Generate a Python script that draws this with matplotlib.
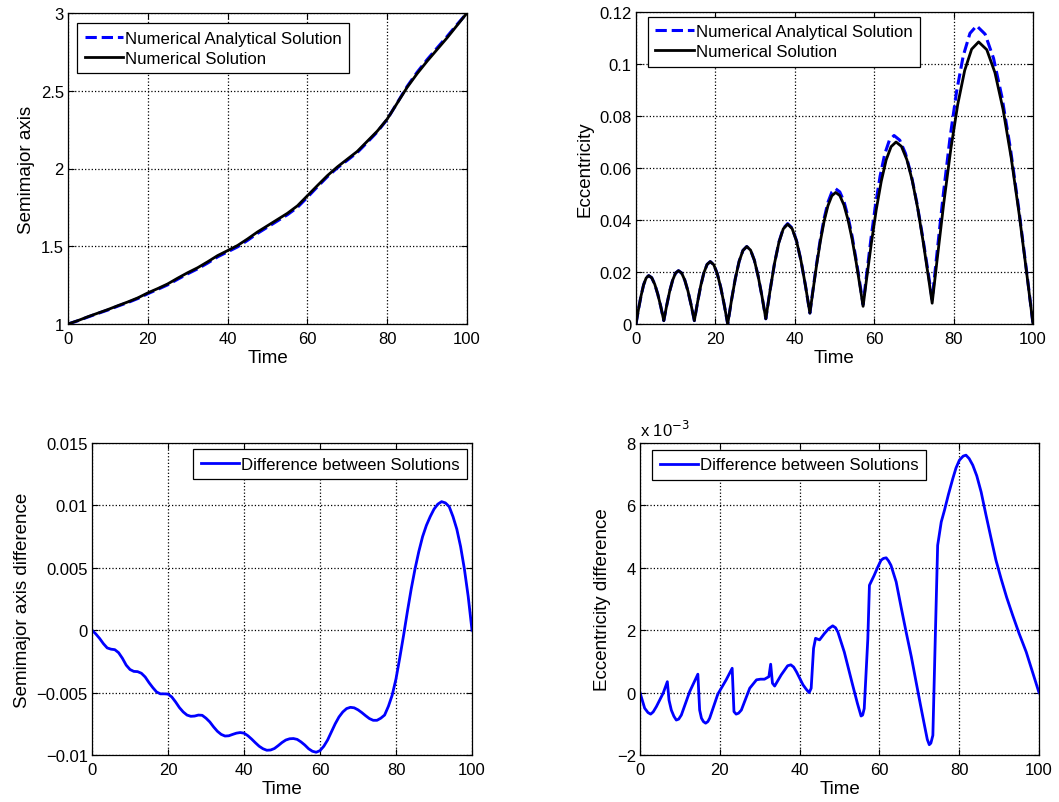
import matplotlib
matplotlib.use("Agg")
import matplotlib.pyplot as plt
import numpy as np

plt.rcParams['font.family'] = ['Liberation Sans', 'DejaVu Sans']

# ---- semimajor axis (top left) ----
sa_time = np.arange(0, 100.1, 2.5)
sa_numerical = [1.000, 1.022, 1.047, 1.070, 1.093, 1.118, 1.142, 1.168, 1.200, 1.228,
                1.258, 1.295, 1.330, 1.362, 1.400, 1.440, 1.472, 1.505, 1.547, 1.592,
                1.632, 1.672, 1.712, 1.760, 1.825, 1.890, 1.954, 2.010, 2.060, 2.110,
                2.175, 2.240, 2.318, 2.420, 2.522, 2.610, 2.690, 2.765, 2.840, 2.920, 3.000]
sa_analytical = [1.000, 1.021, 1.045, 1.068, 1.090, 1.115, 1.138, 1.164, 1.195, 1.223,
                 1.252, 1.288, 1.323, 1.355, 1.392, 1.432, 1.464, 1.496, 1.538, 1.583,
                 1.623, 1.663, 1.703, 1.750, 1.815, 1.882, 1.947, 2.004, 2.053, 2.103,
                 2.168, 2.235, 2.316, 2.422, 2.528, 2.619, 2.700, 2.775, 2.849, 2.926, 3.000]

# ---- eccentricity (top right) ----
ecc_time = [0, 0.64, 1.28, 1.92, 2.56, 3.2, 3.96, 4.72, 5.48, 6.24, 7.0,
            7.74, 8.48, 9.22, 9.96, 10.7, 11.5, 12.3, 13.1, 13.9, 14.7,
            15.5, 16.3, 17.1, 17.9, 18.7, 19.58, 20.46, 21.34, 22.22, 23.1,
            24.06, 25.02, 25.98, 26.94, 27.9, 28.86, 29.82, 30.78, 31.74, 32.7,
            33.8, 34.9, 36.0, 37.1, 38.2, 39.32, 40.44, 41.56, 42.68, 43.8,
            44.45, 45.425, 46.4, 47.375, 48.35, 49.325, 50.3,
            51.335, 52.37, 53.405, 54.44, 55.475, 56.51, 57.2,
            58.03, 59.275, 60.52, 61.765, 63.01, 64.255, 65.5,
            66.865, 68.23, 69.595, 70.96, 72.325, 73.69, 74.6,
            75.77, 77.525, 79.28, 81.035, 82.79, 84.545, 86.3,
            88.355, 90.41, 92.465, 94.52, 96.575, 98.63, 100]
ecc_numerical = [0, 0.0058, 0.0109, 0.0151, 0.0177, 0.0186, 0.0178, 0.0153, 0.0115, 0.0067, 0.0013,
                 0.0072, 0.0126, 0.0168, 0.0196, 0.0205, 0.0196, 0.0168, 0.0126, 0.0072, 0.0013,
                 0.0083, 0.0147, 0.0197, 0.0229, 0.0240, 0.0228, 0.0194, 0.0141, 0.0074, 0.0,
                 0.0092, 0.0175, 0.0241, 0.0283, 0.0298, 0.0284, 0.0245, 0.0183, 0.0106, 0.0020,
                 0.0132, 0.0234, 0.0314, 0.0366, 0.0384, 0.0367, 0.0319, 0.0243, 0.0148, 0.0042,
                 0.0114, 0.0220, 0.0315, 0.0395, 0.0455, 0.0493, 0.0506,
                 0.0494, 0.0458, 0.0401, 0.0326, 0.0236, 0.0136, 0.0068,
                 0.0167, 0.0310, 0.0440, 0.0548, 0.0631, 0.0682, 0.0700,
                 0.0683, 0.0632, 0.0551, 0.0445, 0.0317, 0.0177, 0.0080,
                 0.0237, 0.0465, 0.0671, 0.0844, 0.0975, 0.1057, 0.1085,
                 0.1055, 0.0967, 0.0825, 0.0638, 0.0416, 0.0169, 0]

ecc_time_an = [0, 0.64, 1.28, 1.92, 2.56, 3.2, 3.96, 4.72, 5.48, 6.24, 7.0,
               7.74, 8.48, 9.22, 9.96, 10.7, 11.5, 12.3, 13.1, 13.9, 14.7,
               15.5, 16.3, 17.1, 17.9, 18.7, 19.58, 20.46, 21.34, 22.22, 23.1,
               24.06, 25.02, 25.98, 26.94, 27.9, 28.86, 29.82, 30.78, 31.74, 32.7,
               33.8, 34.9, 36.0, 37.1, 38.2, 39.32, 40.44, 41.56, 42.68, 43.8,
               44.45, 45.425, 46.4, 47.375, 48.35, 49.325, 50.3,
               51.335, 52.37, 53.405, 54.44, 55.475, 56.51, 57.2,
               57.98, 59.15, 60.32, 61.49, 62.66, 63.83, 65.0,
               66.44, 67.88, 69.32, 70.76, 72.2, 73.64, 74.6,
               75.72, 77.4, 79.08, 80.76, 82.44, 84.12, 85.8,
               87.93, 90.06, 92.19, 94.32, 96.45, 98.58, 100]
ecc_analytical = [0, 0.0058, 0.0109, 0.0151, 0.0177, 0.0186, 0.0178, 0.0153, 0.0115, 0.0067, 0.0013,
                  0.0072, 0.0126, 0.0168, 0.0196, 0.0205, 0.0196, 0.0168, 0.0126, 0.0072, 0.0013,
                  0.0083, 0.0147, 0.0197, 0.0229, 0.0240, 0.0228, 0.0194, 0.0141, 0.0074, 0.0,
                  0.0092, 0.0175, 0.0241, 0.0283, 0.0298, 0.0284, 0.0245, 0.0183, 0.0106, 0.0020,
                  0.0132, 0.0234, 0.0315, 0.0368, 0.0386, 0.0369, 0.0320, 0.0244, 0.0148, 0.0042,
                  0.0117, 0.0225, 0.0323, 0.0405, 0.0468, 0.0507, 0.0520,
                  0.0508, 0.0472, 0.0413, 0.0337, 0.0245, 0.0144, 0.0075,
                  0.0176, 0.0324, 0.0457, 0.0569, 0.0654, 0.0707, 0.0725,
                  0.0707, 0.0656, 0.0574, 0.0465, 0.0336, 0.0193, 0.0095,
                  0.0259, 0.0498, 0.0714, 0.0895, 0.1032, 0.1118, 0.1147,
                  0.1115, 0.1022, 0.0872, 0.0674, 0.0439, 0.0179, 0]

# ---- semimajor axis difference (bottom left) ----
sad_time = np.arange(0, 101, 1)
sa_diff = [0, -0.0003, -0.00066, -0.00108, -0.00142, -0.00152, -0.00156, -0.0018, -0.00225, -0.0028,
           -0.00315, -0.0033, -0.00332, -0.00345, -0.00375, -0.0042, -0.0046, -0.00495, -0.0051, -0.0051,
           -0.00512, -0.00535, -0.00575, -0.0062, -0.00655, -0.0068, -0.0069, -0.00688, -0.0068, -0.00682,
           -0.00705, -0.00735, -0.00775, -0.0081, -0.00835, -0.00848, -0.00846, -0.00835, -0.00825, -0.0082,
           -0.00825, -0.00845, -0.00872, -0.00902, -0.0093, -0.0095, -0.00962, -0.0096, -0.00948, -0.00925,
           -0.009, -0.0088, -0.0087, -0.00868, -0.00875, -0.00895, -0.0092, -0.0095, -0.0097, -0.00978,
           -0.00965, -0.0093, -0.0088, -0.00815, -0.0075, -0.00695, -0.00655, -0.00628, -0.00618, -0.00622,
           -0.00638, -0.0066, -0.00685, -0.00708, -0.00722, -0.00722, -0.00705, -0.0068, -0.0061, -0.0052,
           -0.0039, -0.0022, -0.0004, 0.0015, 0.0033, 0.0049, 0.0063, 0.0075, 0.0084, 0.0091,
           0.0097, 0.0101, 0.0103, 0.0102, 0.0099, 0.0091, 0.0081, 0.0067, 0.0049, 0.0027, 0]

# ---- eccentricity difference (bottom right), units of 1e-3 ----
ed_time = [0, 1.17, 2.0, 2.67, 3.3, 4.1, 5.8, 6.85, 7.27, 7.85, 8.5, 9.1, 9.7, 10.36, 12.45,
           14.5, 14.95, 15.4, 15.9, 16.45, 17.0, 17.46, 19.5, 21.6, 23.1, 23.55, 24.1, 24.7,
           25.4, 27.5, 29.2, 30.2, 31.2, 32.3, 32.75, 33.2, 33.75, 35.4, 37.0, 37.8, 38.5,
           39.2, 40.85, 41.7, 42.4, 42.9, 43.5, 44.0, 45.0, 46.2, 47.3, 48.3, 49.0, 49.6,
           51.2, 53.3, 54.5, 55.4, 55.8, 56.2, 57.1, 57.5, 58.7, 59.5, 60.4, 61.0, 61.7,
           62.3, 62.9, 64.2, 65.5, 66.7, 68.0, 69.2, 70.3, 71.3, 72.0, 72.5, 72.9, 73.4,
           74.0, 74.6, 75.5, 76.3, 77.3, 78.4, 79.2, 80.05, 81.0, 81.7, 82.5, 83.4, 84.4,
           85.5, 86.7, 88.0, 89.2, 90.5, 91.9, 93.4, 95.0, 96.8, 98.4, 100]
ecc_diff_e3 = [0, -0.5, -0.64, -0.69, -0.62, -0.45, -0.02, 0.35, -0.24, -0.56, -0.76, -0.88, -0.85,
               -0.72, 0.03, 0.59, -0.56, -0.82, -0.93, -0.98, -0.93, -0.82, -0.05, 0.41, 0.78,
               -0.61, -0.69, -0.66, -0.56, 0.14, 0.41, 0.43, 0.43, 0.51, 0.91, 0.30, 0.21, 0.57,
               0.86, 0.89, 0.82, 0.67, 0.25, 0.1, 0.0, 0.14, 1.42, 1.74, 1.69, 1.89, 2.05, 2.14,
               2.08, 1.94, 1.30, 0.24, -0.35, -0.75, -0.72, -0.51, 1.73, 3.44, 3.76, 4.0, 4.24,
               4.3, 4.32, 4.22, 4.08, 3.55, 2.7, 1.94, 1.15, 0.34, -0.4, -1.05, -1.5, -1.67,
               -1.62, -1.37, 1.73, 4.72, 5.47, 5.84, 6.35, 6.86, 7.2, 7.45, 7.58, 7.61, 7.5,
               7.29, 6.95, 6.43, 5.7, 4.94, 4.25, 3.65, 3.05, 2.48, 1.9, 1.30, 0.65, 0.0]

TICK_FS = 12
LABEL_FS = 13.5
LEGEND_FS = 12.1

W, H = 1059, 803
fig = plt.figure(figsize=(W / 100, H / 100), dpi=100)


def make_axes(left, right, top, bottom):
    return fig.add_axes([left / W, (H - bottom) / H, (right - left) / W, (bottom - top) / H])


def style(ax, ylabel):
    ax.set_xlim(0, 100)
    ax.set_xticks([0, 20, 40, 60, 80, 100])
    ax.grid(True, linestyle=':', color='k', linewidth=0.9)
    ax.tick_params(direction='in', top=True, right=True, length=4, labelsize=TICK_FS)
    ax.tick_params(axis='x', pad=5)
    ax.tick_params(axis='y', pad=3)
    ax.set_xlabel("Time", fontsize=LABEL_FS, labelpad=2)
    ax.set_ylabel(ylabel, fontsize=LABEL_FS)
    for s in ax.spines.values():
        s.set_linewidth(0.9)


def add_legend(ax, loc, anchor):
    leg = ax.legend(loc=loc, bbox_to_anchor=anchor, fontsize=LEGEND_FS, fancybox=False,
                    edgecolor='k', framealpha=1, handlelength=2.3, handletextpad=0.1,
                    borderpad=0.45, labelspacing=0.3, borderaxespad=0)
    leg.get_frame().set_linewidth(0.9)


ax1 = make_axes(68, 467, 14, 325)
ax1.plot(sa_time, sa_analytical, '--', color='b', lw=2.2, label='Numerical Analytical Solution')
ax1.plot(sa_time, sa_numerical, '-', color='k', lw=2.0, label='Numerical Solution')
ax1.set_ylim(1, 3)
ax1.set_yticks([1, 1.5, 2, 2.5, 3])
ax1.set_yticklabels(['1', '1.5', '2', '2.5', '3'])
style(ax1, "Semimajor axis")
add_legend(ax1, 'upper left', (0.023, 0.968))

ax2 = make_axes(636, 1033, 13, 325)
ax2.plot(ecc_time_an, ecc_analytical, '--', color='b', lw=2.2, label='Numerical Analytical Solution')
ax2.plot(ecc_time, ecc_numerical, '-', color='k', lw=2.0, label='Numerical Solution')
ax2.set_ylim(0, 0.12)
ax2.set_yticks([0, 0.02, 0.04, 0.06, 0.08, 0.1, 0.12])
ax2.set_yticklabels(['0', '0.02', '0.04', '0.06', '0.08', '0.1', '0.12'])
style(ax2, "Eccentricity")
add_legend(ax2, 'upper left', (0.03, 0.985))

ax3 = make_axes(92, 472, 444, 756)
ax3.plot(sad_time, sa_diff, '-', color='b', lw=2.0, label='Difference between Solutions')
ax3.set_ylim(-0.01, 0.015)
ax3.set_yticks([-0.01, -0.005, 0, 0.005, 0.01, 0.015])
ax3.set_yticklabels(['\u22120.01', '\u22120.005', '0', '0.005', '0.01', '0.015'])
style(ax3, "Semimajor axis difference")
add_legend(ax3, 'upper right', (0.987, 0.98))

ax4 = make_axes(640, 1039, 444, 756)
ax4.plot(ed_time, ecc_diff_e3, '-', color='b', lw=2.0, label='Difference between Solutions')
ax4.set_ylim(-2, 8)
ax4.set_yticks([-2, 0, 2, 4, 6, 8])
ax4.set_yticklabels(['\u22122', '0', '2', '4', '6', '8'])
style(ax4, "Eccentricity difference")
add_legend(ax4, 'upper left', (0.03, 0.978))
ax4.text(0.0, 1.012, r'x 10$^{-3}$', transform=ax4.transAxes, fontsize=TICK_FS,
         ha='left', va='bottom')

fig.savefig("out.png", dpi=100)
